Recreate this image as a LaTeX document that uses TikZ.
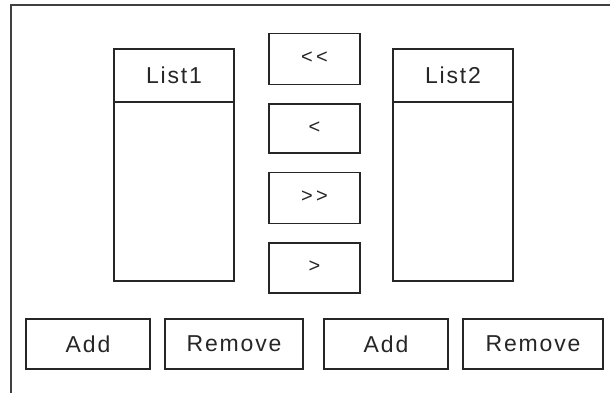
\documentclass[tikz,border=0pt]{standalone}
\usepackage{fontspec}
\setmainfont{Liberation Sans}[LetterSpace=8]
\begin{document}
\begin{tikzpicture}[x=1pt,y=-1pt,
  box/.style={draw=black!85,line width=1.8pt,rectangle,inner sep=0pt,
    font=\fontsize{23}{26}\selectfont,text=black!85},
  head/.style={box,draw=none,minimum width=120pt,minimum height=52pt},
  arrowbtn/.style={box,minimum width=91pt,font=\fontsize{20}{24}\selectfont},
  sep/.style={draw=black!85,line width=1.8pt},
  frame/.style={draw=black!75,line width=2.2pt}]
\useasboundingbox (0,0) rectangle (610,393);
\fill[white] (0,0) rectangle (610,393);
% outer frame (top and left edges visible)
\coordinate (fbl) at (11,393);
\coordinate (ftl) at (11,5);
\coordinate (ftr) at (610,5);
\draw[frame] (fbl) -- (ftl) -- (ftr);
% lists
\node[box,minimum width=120pt,minimum height=232pt] (l1) at (174,165) {};
\node[head,anchor=north] (l1h) at (l1.north) {List1};
\draw[sep] (l1h.south west) -- (l1h.south east);
\node[box,minimum width=120pt,minimum height=232pt] (l2) at (453,165) {};
\node[head,anchor=north] (l2h) at (l2.north) {List2};
\draw[sep] (l2h.south west) -- (l2h.south east);
% middle buttons
\node[arrowbtn,minimum height=51pt] (b1) at (314.5,59) {\raisebox{2pt}{\textless\,\textless}};
\node[arrowbtn,minimum height=49pt] (b2) at (314.5,128.5) {\raisebox{2pt}{\textless}};
\node[arrowbtn,minimum height=51pt] (b3) at (314.5,198) {\raisebox{2pt}{\textgreater\,\textgreater}};
\node[arrowbtn,minimum height=50pt] (b4) at (314.5,268) {\raisebox{2pt}{\textgreater}};
% bottom buttons
\node[box,minimum width=124pt,minimum height=50pt] (add1) at (88,344) {Add};
\node[box,minimum width=138pt,minimum height=50pt] (rem1) at (234,344) {Remove};
\node[box,minimum width=124pt,minimum height=50pt] (add2) at (386,344) {Add};
\node[box,minimum width=140pt,minimum height=50pt] (rem2) at (533,344) {Remove};
\end{tikzpicture}
\end{document}
